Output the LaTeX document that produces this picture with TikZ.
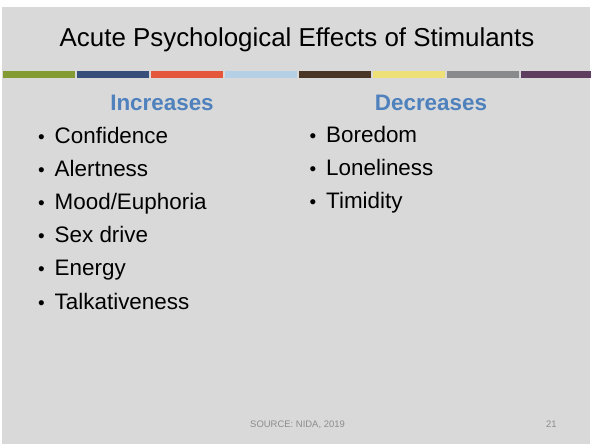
\documentclass[tikz,border=0pt]{standalone}
\usepackage{fontspec}
\setmainfont{Liberation Sans}
\definecolor{slidebg}{HTML}{D9D9D9}
\definecolor{headblue}{HTML}{4F81BD}
\definecolor{footgray}{HTML}{8C8C8C}
\definecolor{cA}{HTML}{839B32}
\definecolor{cB}{HTML}{364F7B}
\definecolor{cC}{HTML}{E4573A}
\definecolor{cD}{HTML}{B4CFE6}
\definecolor{cE}{HTML}{4B3524}
\definecolor{cF}{HTML}{EEE076}
\definecolor{cG}{HTML}{888A8C}
\definecolor{cH}{HTML}{5E3D5E}
\begin{document}
\begin{tikzpicture}[x=1bp,y=-1bp,
  title/.style={anchor=base,font=\fontsize{26}{30}\selectfont,inner sep=0},
  head/.style={anchor=base,font=\fontsize{22.5}{27}\selectfont\bfseries,text=headblue,inner sep=0},
  item/.style={anchor=base west,font=\fontsize{22.5}{27}\selectfont,inner sep=0},
  bul/.style={anchor=base,font=\fontsize{19}{23}\selectfont,inner sep=0},
  foot/.style={anchor=base west,font=\fontsize{9.5}{11}\selectfont,text=footgray,inner sep=0}]
\useasboundingbox (0,0) rectangle (591,444);
\fill[white] (0,0) rectangle (591,444);
\fill[slidebg] (2,7) rectangle (590,444);
% colour bar
\foreach \a/\b/\c in {3/75/cA,77/149/cB,151/223/cC,225/297/cD,299/371/cE,373/445/cF,447/519/cG,521/591/cH}{
  \fill[\c] (\a,71) rectangle (\b,78);
}
\node[title] (t) at (297,47) {Acute Psychological Effects of Stimulants};
\node[head] (h1) at (162,111) {Increases};
\node[head] (h2) at (431,111) {Decreases};
\foreach \n/\y/\txt in {1/144/Confidence,2/177/Alertness,3/210/Mood\slash Euphoria,4/243/Sex drive,5/276/Energy,6/309/Talkativeness}{
  \node[bul] (ib\n) at (41.5,\y) {•};
  \node[item] (i\n) at (54.5,\y) {\txt};
}
\foreach \n/\y/\txt in {1/143/Boredom,2/176/Loneliness,3/209/Timidity}{
  \node[bul] (db\n) at (313,\y) {•};
  \node[item] (d\n) at (326,\y) {\txt};
}
\node[foot] (src) at (250,427) {SOURCE: NIDA, 2019};
\node[foot] (pg) at (546,427) {21};
\end{tikzpicture}
\end{document}
